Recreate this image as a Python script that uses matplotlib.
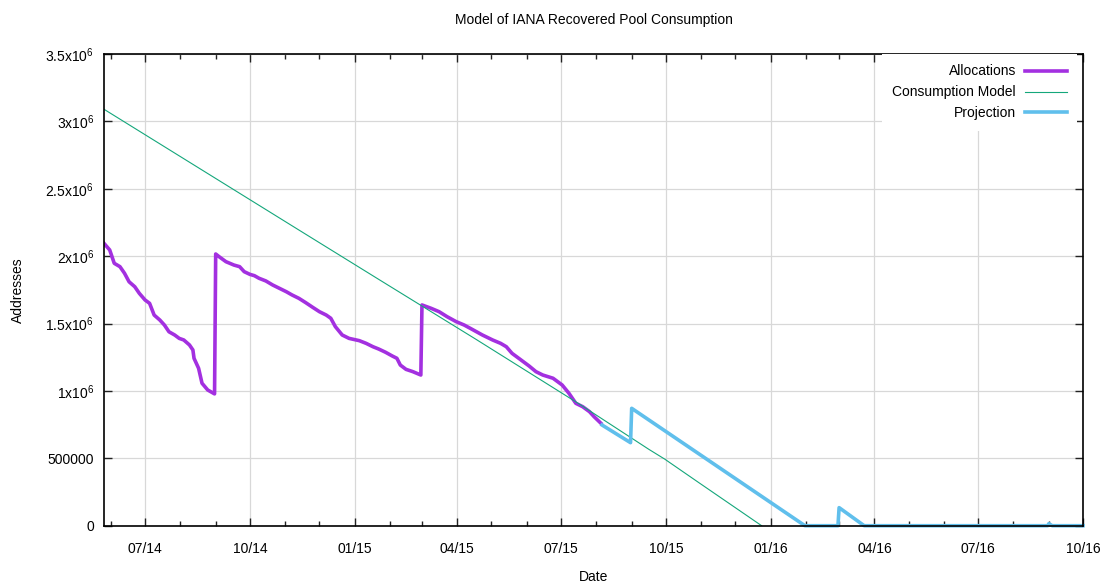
import numpy as np
import pandas as pd
import matplotlib
matplotlib.use("Agg")
import matplotlib.pyplot as plt
import matplotlib.dates as mdates
from matplotlib.ticker import FixedLocator, FixedFormatter

plt.rcParams['font.family'] = ['Liberation Sans', 'DejaVu Sans']
plt.rcParams['mathtext.fontset'] = 'custom'
plt.rcParams['mathtext.rm'] = 'Liberation Sans'
plt.rcParams['mathtext.it'] = 'Liberation Sans'

# --- data ---
alloc_dates = [
    '2014-05-26', '2014-05-31', '2014-06-04', '2014-06-09', '2014-06-13', '2014-06-17', '2014-06-22', '2014-06-26',
    '2014-07-01', '2014-07-05', '2014-07-09', '2014-07-14', '2014-07-18', '2014-07-22', '2014-07-27', '2014-07-31',
    '2014-08-04', '2014-08-09', '2014-08-12', '2014-08-13', '2014-08-17', '2014-08-20', '2014-08-25', '2014-08-31',
    '2014-09-01', '2014-09-04', '2014-09-10', '2014-09-17', '2014-09-22', '2014-09-26', '2014-10-01', '2014-10-05',
    '2014-10-09', '2014-10-15', '2014-10-21', '2014-10-27', '2014-11-02', '2014-11-07', '2014-11-13', '2014-11-19',
    '2014-11-25', '2014-12-01', '2014-12-07', '2014-12-11', '2014-12-15', '2014-12-21', '2014-12-27', '2015-01-05',
    '2015-01-11', '2015-01-17', '2015-01-22', '2015-01-28', '2015-02-03', '2015-02-07', '2015-02-10', '2015-02-15',
    '2015-02-21', '2015-02-28',
    '2015-03-01', '2015-03-09', '2015-03-16', '2015-03-23', '2015-03-31', '2015-04-07', '2015-04-14', '2015-04-23',
    '2015-05-02', '2015-05-09', '2015-05-14', '2015-05-19', '2015-05-27', '2015-06-03', '2015-06-09', '2015-06-15',
    '2015-06-24', '2015-07-02', '2015-07-08', '2015-07-14', '2015-07-20', '2015-07-26', '2015-07-30', '2015-08-05',
]
alloc_values = [
    2095000, 2046000, 1947000, 1922000, 1873000, 1810000, 1773000, 1724000,
    1675000, 1650000, 1563000, 1526000, 1489000, 1439000, 1415000, 1390000,
    1378000, 1341000, 1304000, 1242000, 1168000, 1057000, 1007000, 978000,
    2016000, 1996000, 1959000, 1934000, 1922000, 1885000, 1865000, 1855000,
    1836000, 1816000, 1786000, 1761000, 1736000, 1712000, 1687000, 1655000,
    1621000, 1588000, 1563000, 1539000, 1477000, 1415000, 1390000, 1373000,
    1353000, 1328000, 1311000, 1287000, 1259000, 1242000, 1192000, 1160000,
    1143000, 1118000,
    1638000, 1613000, 1588000, 1551000, 1514000, 1489000, 1457000, 1415000,
    1378000, 1353000, 1328000, 1279000, 1229000, 1185000, 1143000, 1118000,
    1094000, 1044000, 982000, 908000, 883000, 846000, 809000, 760000,
]

model_dates = ['2014-05-26', '2014-11-13', '2015-01-22', '2015-04-17', '2015-07-17',
               '2015-09-16', '2015-09-30', '2015-10-30', '2015-12-24']
model_values = [3090000, 2194000, 1828000, 1385000, 903000, 567000, 494000, 319000, 0]

proj_dates = ['2015-08-06', '2015-08-31', '2015-09-01', '2016-01-31', '2016-02-29', '2016-03-01',
              '2016-03-23', '2016-08-31', '2016-09-01', '2016-09-04', '2016-10-01']
proj_values = [747000, 616000, 871000, 0, 0, 134000, 0, 0, 15000, 0, 0]

y_ticks = [0, 500000, 1000000, 1500000, 2000000, 2500000, 3000000, 3500000]
y_tick_labels = ['0', '500000', r'1x$10^{6}$', r'1.5x$10^{6}$', r'2x$10^{6}$',
                 r'2.5x$10^{6}$', r'3x$10^{6}$', r'3.5x$10^{6}$']

x_start, x_end = '2014-05-26', '2016-10-01'

# --- plot ---
fig = plt.figure(figsize=(11.07, 5.83), dpi=100)
ax = fig.add_axes([104 / 1107, 1 - 525.7 / 583, 979 / 1107, 471.7 / 583])

ax.plot(pd.to_datetime(alloc_dates), alloc_values, color='#a330e0', lw=2.6,
        solid_joinstyle='round', label='Allocations')
ax.plot(pd.to_datetime(model_dates), model_values, color='#14a77b', lw=0.8,
        label='Consumption Model')
ax.plot(pd.to_datetime(proj_dates), proj_values, color='#60bfec', lw=2.6,
        solid_joinstyle='round', label='Projection', clip_on=False)

ax.set_xlim(pd.Timestamp(x_start), pd.Timestamp(x_end))
ax.set_ylim(0, 3500000)

ax.xaxis.set_major_locator(mdates.MonthLocator(bymonth=[1, 4, 7, 10]))
ax.xaxis.set_major_formatter(mdates.DateFormatter('%m/%y'))
ax.xaxis.set_minor_locator(mdates.MonthLocator())
ax.yaxis.set_major_locator(FixedLocator(y_ticks))
ax.yaxis.set_major_formatter(FixedFormatter(y_tick_labels))

ax.tick_params(which='major', direction='in', length=6, width=1.0, top=True, right=True,
               labelsize=10, color='#222222')
ax.tick_params(axis='x', which='major', pad=12)
ax.tick_params(axis='y', which='major', pad=7)
ax.tick_params(axis='x', which='minor', direction='in', length=3.5, width=1.0, top=True,
               color='#222222')

for sp in ax.spines.values():
    sp.set_linewidth(1.2)
    sp.set_color('black')

ax.grid(True, which='major', color='#d8d8d8', lw=0.9)

leg = ax.legend(loc='upper right', bbox_to_anchor=(1 - 6 / 979, 1), borderaxespad=0,
                markerfirst=False, frameon=True, fancybox=False, edgecolor='none',
                facecolor='white', framealpha=1, handlelength=3.0, handletextpad=0.65,
                labelspacing=0.5, borderpad=0.75, fontsize=10)

fig.text(594 / 1107, 1 - 20 / 583, 'Model of IANA Recovered Pool Consumption',
         ha='center', va='center', fontsize=10)
fig.text(18 / 1107, 1 - 290 / 583, 'Addresses', rotation=90, ha='center', va='center', fontsize=10)
fig.text(593.5 / 1107, 1 - 577 / 583, 'Date', ha='center', va='center', fontsize=10)

fig.savefig('out.png', dpi=100)
